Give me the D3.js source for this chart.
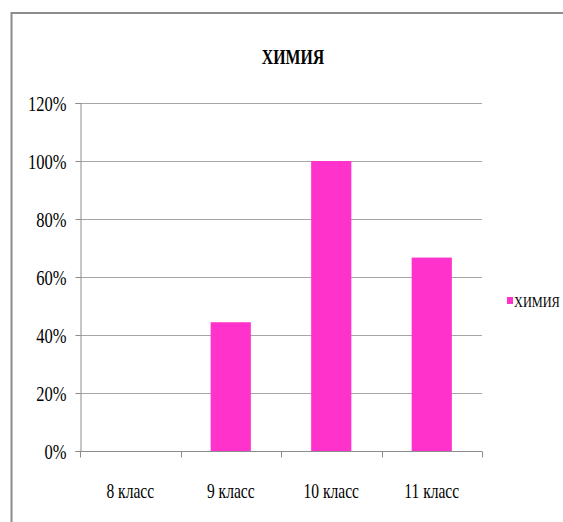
<!DOCTYPE html>
<html>
<head>
<meta charset="utf-8">
<script src="https://cdn.jsdelivr.net/npm/d3@7"></script>
<style>
  html, body { margin: 0; padding: 0; background: #fff; overflow: hidden; }
  svg { display: block; }
</style>
</head>
<body>
<svg id="chart" width="563" height="522"></svg>
<script>
const chartTitle = "ХИМИЯ";
const seriesName = "ХИМИЯ";
const categories = ["8 класс", "9 класс", "10 класс", "11 класс"];
const values = [0, 0.444, 1.0, 0.667];
const yTicks = [0, 0.2, 0.4, 0.6, 0.8, 1.0, 1.2];

const FONT = "'Liberation Serif', 'Times New Roman', serif";
const svg = d3.select("#chart");
const W = 563, H = 522;
const m = { left: 80, right: 482, top: 103, bottom: 451 };
const barColor = "#ff33cc";
const gridColor = "#a6a6a6";
const axisColor = "#8c8c8c";

// outer frame: only top and left edges are visible inside the picture
svg.append("path")
  .attr("d", `M11.5,${H + 5} L11.5,13 L${W + 5},13`)
  .attr("fill", "none").attr("stroke", axisColor).attr("stroke-width", 2);

const x = d3.scaleBand().domain(categories).range([m.left, m.right])
  .paddingInner(0.6).paddingOuter(0.3);
const y = d3.scaleLinear().domain([0, 1.2]).range([m.bottom, m.top]);

// gridlines
svg.append("g").selectAll("line").data(yTicks.filter(d => d > 0)).join("line")
  .attr("x1", m.left).attr("x2", m.right)
  .attr("y1", d => Math.round(y(d)) + 0.5).attr("y2", d => Math.round(y(d)) + 0.5)
  .attr("stroke", gridColor).attr("stroke-width", 1.2);

// bars
svg.append("g").selectAll("rect").data(values).join("rect")
  .attr("x", (d, i) => x(categories[i]))
  .attr("width", x.bandwidth())
  .attr("y", d => y(d))
  .attr("height", d => y(0) - y(d))
  .attr("fill", barColor);

// y axis
const yAxis = d3.axisLeft(y).tickValues(yTicks).tickSize(5).tickPadding(0)
  .tickFormat(d => Math.round(d * 100) + "%");
const gy = svg.append("g").attr("transform", `translate(${m.left + 0.5},0)`).call(yAxis);
gy.select(".domain").attr("stroke", axisColor);
gy.selectAll(".tick line").attr("stroke", axisColor);
gy.selectAll(".tick text").remove();
gy.selectAll(".tick").append("text")
  .attr("text-anchor", "end")
  .attr("dy", "0.33em")
  .attr("font-family", FONT)
  .attr("font-size", 22)
  .attr("fill", "#000")
  .attr("transform", "translate(-14,0) scale(0.75,1)")
  .text(d => Math.round(d * 100) + "%");

// x axis
const gx = svg.append("g").attr("transform", `translate(0,${m.bottom + 0.5})`);
gx.append("line").attr("x1", m.left).attr("x2", m.right).attr("stroke", axisColor);
const edges = categories.map(c => x(c) + x.bandwidth() / 2 - x.step() / 2)
  .concat([x(categories[categories.length - 1]) + x.bandwidth() / 2 + x.step() / 2]);
gx.selectAll("line.tk").data(edges).join("line").attr("class", "tk")
  .attr("x1", d => Math.round(d) + 0.5).attr("x2", d => Math.round(d) + 0.5)
  .attr("y1", 0).attr("y2", 6).attr("stroke", axisColor);
gx.selectAll("text").data(categories).join("text")
  .attr("text-anchor", "middle")
  .attr("font-family", FONT)
  .attr("font-size", 21)
  .attr("fill", "#000")
  .attr("transform", d => `translate(${x(d) + x.bandwidth() / 2},46) scale(0.74,1)`)
  .text(d => d);

// title
svg.append("text")
  .attr("text-anchor", "middle")
  .attr("font-family", FONT)
  .attr("font-size", 22).attr("font-weight", "bold")
  .attr("fill", "#000")
  .attr("transform", "translate(293,64) scale(0.72,1)")
  .text(chartTitle);

// legend
const lg = svg.append("g").attr("transform", "translate(507,297)");
lg.append("rect").attr("width", 6).attr("height", 7).attr("fill", barColor);
lg.append("text")
  .attr("font-family", FONT)
  .attr("font-size", 14)
  .attr("fill", "#000")
  .attr("transform", "translate(7,10) scale(0.88,1)")
  .text(seriesName);
</script>
</body>
</html>
